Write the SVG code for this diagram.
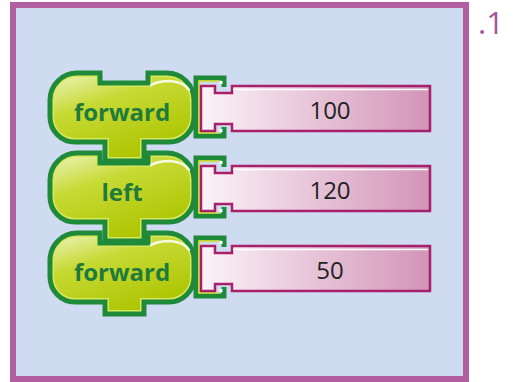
<svg xmlns="http://www.w3.org/2000/svg" xmlns:xlink="http://www.w3.org/1999/xlink" width="519" height="382" viewBox="0 0 519 382">
<style>
.lbl{font-family:"Open Sans","Liberation Sans",sans-serif;font-weight:bold;font-size:24px;fill:#1e7b3c;text-anchor:middle}
.num{font-family:"Open Sans","Liberation Sans",sans-serif;font-size:24px;fill:#222;text-anchor:middle}
.brk{fill:none;stroke:#1f8a3a;stroke-width:5;stroke-linejoin:miter}
.brk2{fill:none;stroke:#cfe01e;stroke-width:1.6}
.inp{fill:url(#pg);stroke:#a8206c;stroke-width:2.5;stroke-linejoin:miter}
.gloss{fill:none;stroke:#fff;stroke-width:2.5;opacity:.85;stroke-linecap:round}
</style>
<defs>
<linearGradient id="gg" x1="0" y1="0" x2="0.55" y2="1">
<stop offset="0" stop-color="#f0f6c8"/>
<stop offset="0.4" stop-color="#c6da34"/>
<stop offset="1" stop-color="#adc400"/>
</linearGradient>
<linearGradient id="pg" x1="0" y1="0" x2="1" y2="0">
<stop offset="0" stop-color="#fbf3f7"/>
<stop offset="1" stop-color="#d294b8"/>
</linearGradient>
<path id="blkL" d="M77,0 H101 V10 H147 V0 H167 A28,28 0 0 1 195,28 V45 A26,26 0 0 1 169,71 H145 V90 H104 V71 H75 A26,26 0 0 1 49,45 V28 A28,28 0 0 1 77,0 Z"/>
<path id="blkS" d="M77,0 H101 V10 H147 V0 H167 A28,28 0 0 1 195,28 V45 A26,26 0 0 1 169,71 H145 V83 H104 V71 H75 A26,26 0 0 1 49,45 V28 A28,28 0 0 1 77,0 Z"/>
<clipPath id="cL"><use xlink:href="#blkL"/></clipPath>
<clipPath id="cS"><use xlink:href="#blkS"/></clipPath>
<path id="pin" d="M201,14 H215 V21 H232 V14 H430 V59 H232 V52 H215 V59 H201 Z"/>
<path id="bk" d="M224,15 V6 H196 V64 H224 V55"/>
<path id="bk2" d="M219,9 H199 V61 H219"/>
</defs>

<rect x="13" y="5" width="453" height="374" fill="#cedbf0" stroke="#b15ea3" stroke-width="6"/>
<text x="478" y="34" style="font-family:'Open Sans','Liberation Sans',sans-serif;font-size:31px;fill:#a8549a">.1</text>

<g id="block-forward-2" transform="translate(0,232)">
<use xlink:href="#bk" class="brk"/>
<use xlink:href="#bk2" class="brk2"/>
<rect x="219.5" y="9" width="3" height="3" fill="#fff"/>
<rect x="219.5" y="57" width="3" height="3" fill="#fff"/>
<use xlink:href="#blkS" fill="url(#gg)"/>
<use xlink:href="#blkS" fill="none" stroke="#d6e85c" stroke-width="10" clip-path="url(#cS)"/>
<use xlink:href="#blkS" fill="none" stroke="#1f8a3a" stroke-width="7" clip-path="url(#cS)"/>
<use xlink:href="#blkS" fill="none" stroke="#1f8a3a" stroke-width="3"/>
<path class="gloss" d="M151,13 Q158,9 170,9 Q184,10 189,18"/>
<text class="lbl" x="122" y="49">forward</text>
</g>
<g id="input-50" transform="translate(0,232)">
<use xlink:href="#pin" class="inp"/>
<path d="M233,17.5 H428" stroke="#fff" stroke-width="1.5"/>
<text class="num" x="330" y="47">50</text>
</g>

<g id="block-left" transform="translate(0,152)">
<use xlink:href="#bk" class="brk"/>
<use xlink:href="#bk2" class="brk2"/>
<rect x="219.5" y="9" width="3" height="3" fill="#fff"/>
<rect x="219.5" y="57" width="3" height="3" fill="#fff"/>
<use xlink:href="#blkL" fill="url(#gg)"/>
<use xlink:href="#blkL" fill="none" stroke="#d6e85c" stroke-width="10" clip-path="url(#cL)"/>
<use xlink:href="#blkL" fill="none" stroke="#1f8a3a" stroke-width="7" clip-path="url(#cL)"/>
<use xlink:href="#blkL" fill="none" stroke="#1f8a3a" stroke-width="3"/>
<path class="gloss" d="M151,13 Q158,9 170,9 Q184,10 189,18"/>
<text class="lbl" x="122" y="49">left</text>
</g>
<g id="input-120" transform="translate(0,152)">
<use xlink:href="#pin" class="inp"/>
<path d="M233,17.5 H428" stroke="#fff" stroke-width="1.5"/>
<text class="num" x="330" y="47">120</text>
</g>

<g id="block-forward-1" transform="translate(0,72)">
<use xlink:href="#bk" class="brk"/>
<use xlink:href="#bk2" class="brk2"/>
<rect x="219.5" y="9" width="3" height="3" fill="#fff"/>
<rect x="219.5" y="57" width="3" height="3" fill="#fff"/>
<use xlink:href="#blkL" fill="url(#gg)"/>
<use xlink:href="#blkL" fill="none" stroke="#d6e85c" stroke-width="10" clip-path="url(#cL)"/>
<use xlink:href="#blkL" fill="none" stroke="#1f8a3a" stroke-width="7" clip-path="url(#cL)"/>
<use xlink:href="#blkL" fill="none" stroke="#1f8a3a" stroke-width="3"/>
<path class="gloss" d="M151,13 Q158,9 170,9 Q184,10 189,18"/>
<text class="lbl" x="122" y="49">forward</text>
</g>
<g id="input-100" transform="translate(0,72)">
<use xlink:href="#pin" class="inp"/>
<path d="M233,17.5 H428" stroke="#fff" stroke-width="1.5"/>
<text class="num" x="330" y="47">100</text>
</g>
</svg>
